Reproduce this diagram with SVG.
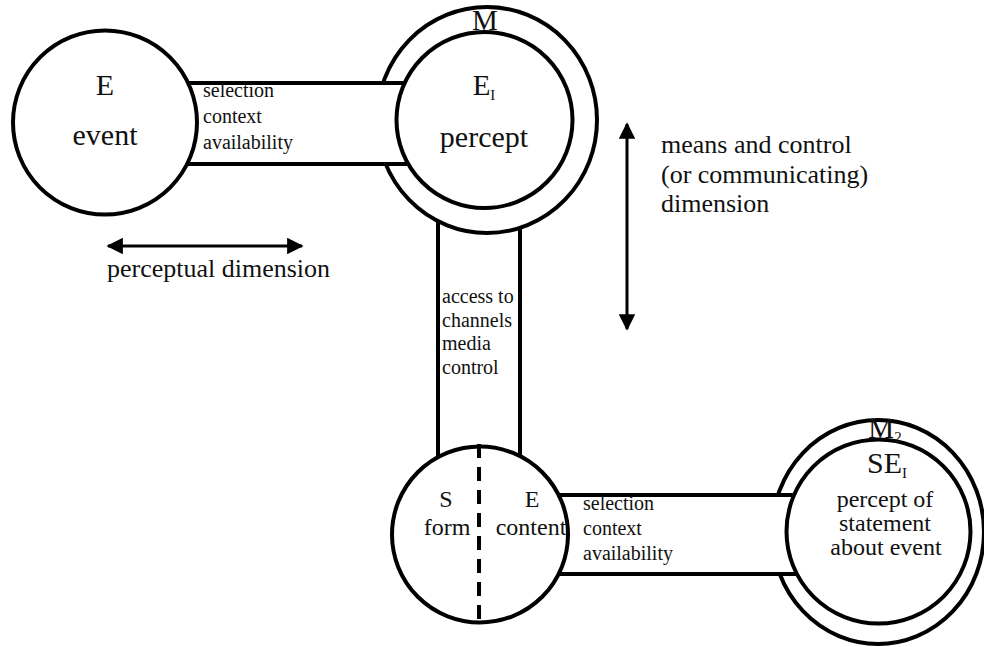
<svg xmlns="http://www.w3.org/2000/svg" width="984" height="647" viewBox="0 0 984 647">
<style>
.s{fill:#fff;stroke:#000;stroke-width:4}
.t{font-family:"Liberation Serif","DejaVu Serif",serif;fill:#111}
.big{font-size:30px}
.mid{font-size:24px}
.sm{font-size:20px}
.lab{font-size:26px}
.ar{stroke:#000;stroke-width:3;fill:none}
</style>
<defs>
<marker id="ah" viewBox="0 0 10 10" refX="9" refY="5" markerWidth="5.5" markerHeight="5.5" orient="auto-start-reverse" markerUnits="strokeWidth">
<path d="M0,0 L10,5 L0,10 Z" fill="#000"/>
</marker>
</defs>
<rect width="984" height="647" fill="#fff"/>
<g id="connectors">
<rect id="band-vertical" class="s" x="438" y="180" width="82" height="320"/>
</g>
<g id="node-M">
<ellipse class="s" cx="487" cy="120" rx="110" ry="113"/>
</g>
<g id="band-top">
<rect class="s" x="150" y="83" width="290" height="81"/>
<text class="t sm" x="203" y="97">selection</text>
<text class="t sm" x="203" y="123">context</text>
<text class="t sm" x="203" y="149">availability</text>
</g>
<g id="node-E">
<circle class="s" cx="105" cy="122.5" r="92"/>
<text class="t big" x="105" y="95" text-anchor="middle">E</text>
<text class="t big" x="105" y="145" text-anchor="middle">event</text>
</g>
<g id="node-EI">
<circle class="s" cx="484.5" cy="120" r="88"/>
<text class="t" x="485" y="30" text-anchor="middle" font-size="29">M</text>
<text class="t" x="484" y="95" text-anchor="middle" font-size="29">E<tspan font-size="15" dy="5">I</tspan></text>
<text class="t big" x="484" y="147" text-anchor="middle">percept</text>
</g>
<g id="band-vertical-text">
<text class="t sm" x="442" y="303">access to</text>
<text class="t sm" x="442" y="327">channels</text>
<text class="t sm" x="442" y="350">media</text>
<text class="t sm" x="442" y="374">control</text>
</g>
<g id="node-M2">
<ellipse class="s" cx="878" cy="532" rx="106" ry="112"/>
</g>
<g id="band-bottom">
<rect class="s" x="520" y="495" width="310" height="79"/>
<text class="t sm" x="583" y="510">selection</text>
<text class="t sm" x="583" y="535">context</text>
<text class="t sm" x="583" y="560">availability</text>
</g>
<g id="node-SE">
<circle class="s" cx="480" cy="534.5" r="88"/>
<line x1="479" y1="444" x2="479" y2="625" stroke="#000" stroke-width="4" stroke-dasharray="14 9"/>
<text class="t mid" x="446" y="507" text-anchor="middle">S</text>
<text class="t mid" x="447" y="535" text-anchor="middle">form</text>
<text class="t mid" x="532" y="507" text-anchor="middle">E</text>
<text class="t mid" x="531" y="535" text-anchor="middle">content</text>
</g>
<g id="node-SEI">
<circle class="s" cx="878.5" cy="531.5" r="92"/>
<text class="t" x="885" y="438" text-anchor="middle" font-size="29">M<tspan font-size="15" dy="4">2</tspan></text>
<text class="t" x="887" y="473" text-anchor="middle" font-size="30">SE<tspan font-size="15" dy="5">I</tspan></text>
<text class="t mid" x="885" y="507" text-anchor="middle">percept of</text>
<text class="t mid" x="885" y="531" text-anchor="middle">statement</text>
<text class="t mid" x="886" y="555" text-anchor="middle">about event</text>
</g>
<g id="arrows">
<line class="ar" x1="108" y1="246" x2="302" y2="246" marker-start="url(#ah)" marker-end="url(#ah)"/>
<line class="ar" x1="627" y1="124" x2="627" y2="329" marker-start="url(#ah)" marker-end="url(#ah)"/>
<text class="t lab" x="107" y="277">perceptual dimension</text>
<text class="t lab" x="661" y="153">means and control</text>
<text class="t lab" x="661" y="183">(or communicating)</text>
<text class="t lab" x="661" y="212">dimension</text>
</g>
</svg>
